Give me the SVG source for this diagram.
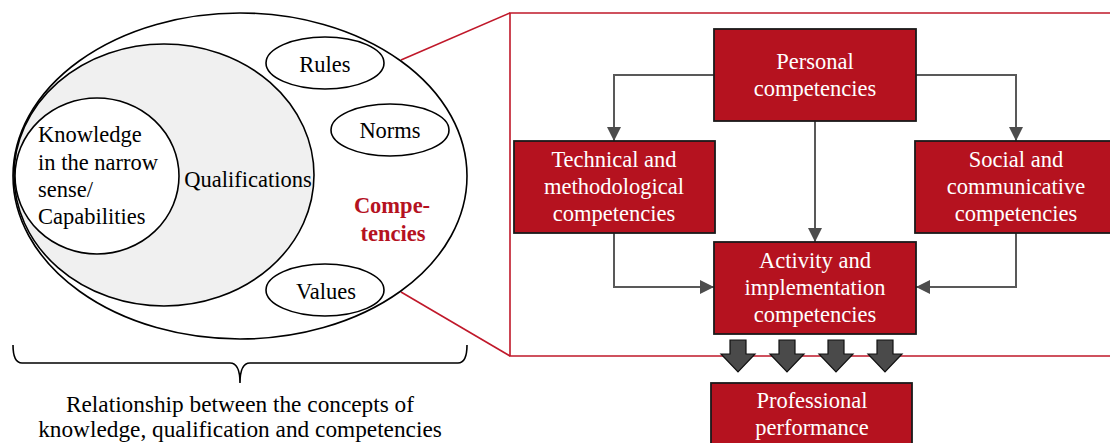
<svg xmlns="http://www.w3.org/2000/svg" width="1110" height="443" viewBox="0 0 1110 443">
<style>
text{font-family:"Liberation Serif","Times New Roman",serif;font-size:22.5px;fill:#000;text-anchor:middle}
.w{fill:#fff}
.cap{font-size:23.3px}
.ell{fill:#fff;stroke:#000;stroke-width:1.6}
.box{fill:#b5121f;stroke:#1a1a1a;stroke-width:1.8}
.con{fill:none;stroke:#595959;stroke-width:2}
.red{fill:none;stroke:#c0182a;stroke-width:1.6}
.blk{fill:#4a4a4a;stroke:#111;stroke-width:1.2}
</style>
<defs>
<marker id="ah" viewBox="0 0 14 14" refX="14" refY="7" markerWidth="14" markerHeight="14" markerUnits="userSpaceOnUse" orient="auto">
<path d="M0,0 L14,7 L0,14 Z" fill="#4d4d4d"/>
</marker>
</defs>
<g id="zoom-lines">
<line class="red" x1="401" y1="60" x2="510" y2="13"/>
<line class="red" x1="401" y1="292" x2="510" y2="356"/>
<path class="red" d="M1112,13 H510 V356 H1112"/>
</g>
<g id="competencies">
<ellipse class="ell" cx="240" cy="176" rx="227" ry="163"/>
<text x="392" y="213" style="font-weight:bold;fill:#b5121f">Compe-</text>
<text x="393" y="241" style="font-weight:bold;fill:#b5121f">tencies</text>
</g>
<g id="qualifications">
<ellipse cx="164" cy="175" rx="150" ry="131" style="fill:#f0f0f0;stroke:#000;stroke-width:1.6"/>
<text x="248" y="187">Qualifications</text>
</g>
<g id="knowledge">
<ellipse class="ell" cx="97" cy="176" rx="82" ry="78"/>
<text x="38" y="142" style="text-anchor:start">Knowledge</text>
<text x="38" y="170" style="text-anchor:start">in the narrow</text>
<text x="38" y="197" style="text-anchor:start">sense/</text>
<text x="38" y="224" style="text-anchor:start">Capabilities</text>
</g>
<g id="rules">
<ellipse class="ell" cx="325" cy="63" rx="59" ry="26"/>
<text x="325" y="72">Rules</text>
</g>
<g id="norms">
<ellipse class="ell" cx="390" cy="130" rx="59" ry="26"/>
<text x="390" y="138">Norms</text>
</g>
<g id="values">
<ellipse class="ell" cx="325" cy="290" rx="59" ry="26"/>
<text x="326" y="299">Values</text>
</g>
<g id="brace">
<path d="M13,345 Q13,363 22,363 H230 Q240,363 240,383 Q240,363 250,363 H458 Q467,363 467,345" fill="none" stroke="#000" stroke-width="1.6"/>
<text class="cap" x="240" y="412">Relationship between the concepts of</text>
<text class="cap" x="240" y="437">knowledge, qualification and competencies</text>
</g>
<g id="connectors">
<polyline class="con" points="714,75 614,75 614,141" marker-end="url(#ah)"/>
<polyline class="con" points="916,75 1016,75 1016,141" marker-end="url(#ah)"/>
<polyline class="con" points="815,121 815,242" marker-end="url(#ah)"/>
<polyline class="con" points="614,233 614,287 714,287" marker-end="url(#ah)"/>
<polyline class="con" points="1016,233 1016,287 916,287" marker-end="url(#ah)"/>
</g>
<g id="personal">
<rect class="box" x="714" y="29" width="202" height="92"/>
<text class="w" x="815" y="69">Personal</text>
<text class="w" x="815" y="96">competencies</text>
</g>
<g id="technical">
<rect class="box" x="514" y="141" width="201" height="92"/>
<text class="w" x="614" y="167">Technical and</text>
<text class="w" x="614" y="194">methodological</text>
<text class="w" x="614" y="221">competencies</text>
</g>
<g id="social">
<rect class="box" x="915" y="141" width="204" height="92"/>
<text class="w" x="1016" y="167">Social and</text>
<text class="w" x="1016" y="194">communicative</text>
<text class="w" x="1016" y="221">competencies</text>
</g>
<g id="activity">
<rect class="box" x="714" y="242" width="202" height="92"/>
<text class="w" x="815" y="268">Activity and</text>
<text class="w" x="815" y="295">implementation</text>
<text class="w" x="815" y="322">competencies</text>
</g>
<g id="block-arrows">
<path class="blk" d="M730,340 H746 V354 H755 L738,372 L721,354 H730 Z"/>
<path class="blk" d="M779,340 H795 V354 H804 L787,372 L770,354 H779 Z"/>
<path class="blk" d="M828,340 H844 V354 H853 L836,372 L819,354 H828 Z"/>
<path class="blk" d="M877,340 H893 V354 H902 L885,372 L868,354 H877 Z"/>
</g>
<g id="professional">
<rect class="box" x="711" y="383" width="201" height="70"/>
<text class="w" x="812" y="408">Professional</text>
<text class="w" x="812" y="435">performance</text>
</g>
</svg>
